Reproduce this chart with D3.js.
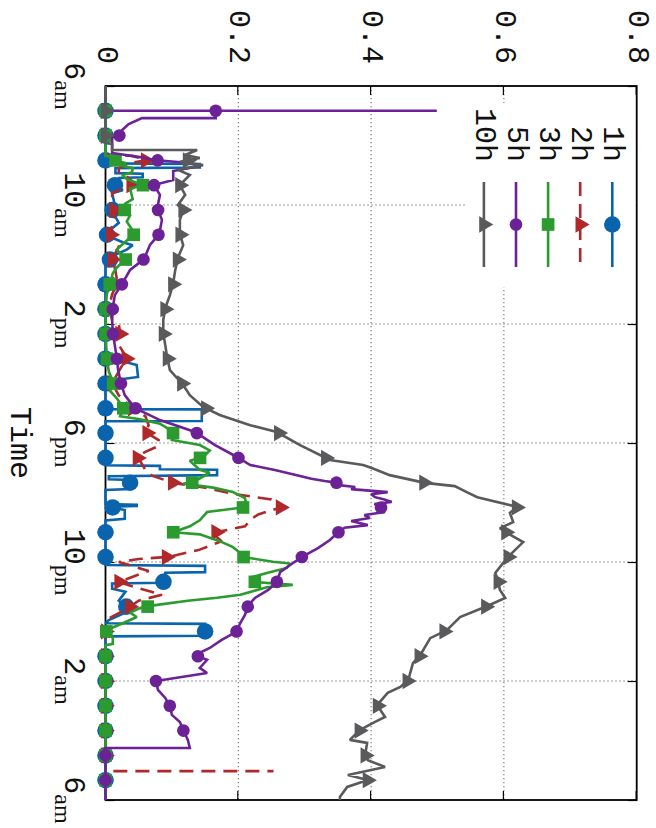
<!DOCTYPE html>
<html><head><meta charset="utf-8">
<script src="https://cdn.jsdelivr.net/npm/d3@7"></script>
<style>html,body{margin:0;padding:0;background:#fff}</style>
</head><body>
<svg id="c" width="656" height="828"></svg>
<script>
// ---- data (time in hours after 6 am, value) ----
const timeTicks = [0, 4, 8, 12, 16, 20, 24];
const timeTickMain = ["6", "10", "2", "6", "10", "2", "6"];
const timeTickSub = ["am", "am", "pm", "pm", "pm", "am", "am"];
const valueTicks = [0, 0.2, 0.4, 0.6, 0.8];
const valueTickLabels = ["0", "0.2", "0.4", "0.6", "0.8"];
const seriesNames = ["1h", "2h", "3h", "5h", "10h"];
const markerEveryMinutes = 50;

const s1h = [[0,0],[2.6,0],[2.62,0.142],[2.74,0.142],[2.76,0.015],[2.93,0.015],[2.95,0.056],[3.07,0.056],[3.09,0.02],[3.33,0.014],[3.5,0.026],[3.6,0.01],[4.0,0.014],[4.2,0.01],[4.6,0.02],[4.97,0],[5.1,0.01],[5.25,0.026],[5.35,0.041],[5.5,0.032],[5.7,0.012],[5.9,0.004],[6.0,0],[9.25,0],[9.28,0.03],[9.38,0.047],[9.78,0.049],[9.88,0.015],[10.0,0],[10.86,0],[10.87,0.145],[11.26,0.145],[11.27,0],[12.75,0],[12.77,0.082],[12.88,0.082],[12.9,0.168],[13.08,0.168],[13.12,0.005],[13.22,0.005],[13.24,0.037],[13.55,0.037],[13.58,0],[14.05,0],[14.08,0.047],[14.12,0.047],[14.14,0.005],[14.25,0.029],[14.55,0.029],[14.6,0],[16.1,0],[16.13,0.15],[16.34,0.15],[16.36,0.09],[16.7,0.087],[16.72,0.01],[16.9,0.01],[17.0,0.03],[17.3,0.02],[17.45,0.027],[17.6,0.04],[17.8,0.02],[17.95,0.005],[18.06,0],[18.08,0.15],[18.48,0.15],[18.5,0],[24,0]];

const s2h = [[0,0],[2.3,0],[2.35,0.04],[2.49,0.063],[2.6,0.035],[2.76,0.02],[2.9,0.02],[3.0,0.03],[3.2,0.04],[3.33,0.039],[3.5,0.02],[3.6,0.01],[4.0,0.01],[4.3,0.015],[4.5,0.012],[4.97,0.007],[5.4,0.02],[5.82,0.01],[6.2,0.015],[6.62,0.018],[7.0,0.01],[7.46,0.005],[7.87,0.01],[8.0,0.02],[8.3,0.022],[8.7,0.02],[9.14,0.032],[9.4,0.025],[9.98,0.01],[10.4,0.02],[10.82,0.04],[11.1,0.06],[11.4,0.065],[11.63,0.06],[11.9,0.08],[12.1,0.08],[12.3,0.06],[12.47,0.047],[12.6,0.052],[12.9,0.06],[13.1,0.07],[13.34,0.102],[13.5,0.15],[13.7,0.19],[13.9,0.25],[14.15,0.266],[14.4,0.23],[14.55,0.22],[14.8,0.21],[15.03,0.16],[15.3,0.175],[15.6,0.14],[15.83,0.094],[15.9,0.05],[16.0,0.02],[16.3,0.065],[16.67,0.02],[16.85,0.045],[17.1,0.085],[17.3,0.05],[17.6,0.03],[17.9,0.005],[18.35,0],[23.03,0],[23.03,0.253]];

const s3h = [[0,0],[2.35,0],[2.4,0.014],[2.5,0.015],[2.59,0.03],[2.69,0.027],[2.76,0.041],[2.9,0.04],[3.0,0.025],[3.1,0.03],[3.2,0.04],[3.33,0.057],[3.45,0.037],[3.8,0.041],[3.95,0.03],[4.1,0.026],[4.35,0.037],[4.55,0.032],[4.97,0.044],[5.25,0.029],[5.5,0.017],[5.82,0.031],[6.1,0.017],[6.3,0.011],[6.62,0.007],[7.0,0.002],[7.46,0],[8.3,0],[9.14,0.002],[9.6,0.005],[9.98,0.012],[10.25,0.007],[10.5,0.017],[10.82,0.027],[11.1,0.022],[11.2,0.052],[11.35,0.082],[11.63,0.102],[11.9,0.1],[12.07,0.142],[12.25,0.157],[12.47,0.147],[12.6,0.127],[12.9,0.142],[13.0,0.157],[13.34,0.13],[13.36,0.117],[13.5,0.162],[13.65,0.192],[13.85,0.21],[14.15,0.213],[14.32,0.153],[14.6,0.142],[14.8,0.127],[15.0,0.102],[15.07,0.142],[15.3,0.172],[15.5,0.192],[15.7,0.203],[15.83,0.207],[15.99,0.252],[16.05,0.278],[16.2,0.273],[16.37,0.243],[16.5,0.222],[16.67,0.225],[16.77,0.282],[16.85,0.243],[17.1,0.203],[17.2,0.168],[17.3,0.124],[17.45,0.075],[17.55,0.052],[17.7,0.037],[17.85,0.047],[18.0,0.032],[18.2,0.011],[18.35,0],[18.55,0.011],[18.75,0.011],[18.8,0],[24,0]];

const s5h = [[0,0],[0.83,0],[0.83,0.499],[0.83,0.166],[1.08,0.166],[1.08,0.055],[1.28,0.035],[1.48,0.025],[1.65,0.025],[1.71,0.01],[2.25,0.01],[2.39,0.052],[2.49,0.073],[2.59,0.127],[2.69,0.142],[2.86,0.102],[3.16,0.102],[3.33,0.073],[3.66,0.082],[4.1,0.078],[4.5,0.085],[4.97,0.081],[5.34,0.067],[5.82,0.058],[6.18,0.037],[6.62,0.026],[7.03,0.014],[7.46,0.011],[7.87,0.01],[8.3,0.011],[8.71,0.014],[9.14,0.017],[9.55,0.019],[9.98,0.023],[10.39,0.029],[10.82,0.044],[11.23,0.082],[11.63,0.135],[12.07,0.165],[12.47,0.198],[12.74,0.218],[12.91,0.255],[13.11,0.293],[13.2,0.31],[13.28,0.33],[13.34,0.35],[13.4,0.345],[13.48,0.376],[13.55,0.37],[13.65,0.425],[13.72,0.4],[13.82,0.406],[13.9,0.42],[13.98,0.431],[14.05,0.405],[14.15,0.416],[14.25,0.41],[14.32,0.421],[14.42,0.39],[14.52,0.398],[14.62,0.37],[14.76,0.395],[14.85,0.36],[15.03,0.349],[15.26,0.338],[15.53,0.32],[15.83,0.296],[16.1,0.278],[16.34,0.263],[16.67,0.258],[16.94,0.245],[17.21,0.225],[17.45,0.215],[17.78,0.21],[18.05,0.203],[18.35,0.197],[18.62,0.175],[18.89,0.157],[19.13,0.135],[19.29,0.153],[19.56,0.142],[19.73,0.153],[19.9,0.105],[20.0,0.076],[20.3,0.079],[20.57,0.09],[20.84,0.097],[21.14,0.1],[21.38,0.112],[21.65,0.117],[21.98,0.124],[22.25,0.127],[22.25,0],[24,0]];

const s10h = [[0,0],[1.92,0],[1.95,0.01],[2.15,0.01],[2.15,0.138],[2.32,0.12],[2.42,0.142],[2.55,0.112],[2.66,0.147],[2.82,0.109],[2.99,0.127],[3.33,0.112],[3.66,0.12],[4.0,0.109],[4.17,0.117],[4.5,0.112],[4.97,0.112],[5.35,0.117],[5.78,0.109],[6.19,0.105],[6.62,0.102],[7.03,0.097],[7.46,0.09],[7.87,0.087],[8.3,0.087],[8.71,0.09],[9.14,0.093],[9.55,0.097],[10.05,0.117],[10.39,0.127],[10.79,0.147],[11.06,0.172],[11.4,0.218],[11.63,0.258],[12.07,0.293],[12.57,0.338],[12.74,0.388],[12.84,0.401],[13.08,0.428],[13.34,0.481],[13.45,0.526],[13.65,0.544],[13.82,0.56],[14.15,0.62],[14.35,0.609],[14.66,0.614],[14.86,0.594],[15.03,0.605],[15.33,0.629],[15.77,0.609],[16.03,0.599],[16.37,0.587],[16.61,0.591],[16.94,0.594],[17.21,0.602],[17.48,0.575],[17.85,0.534],[18.29,0.514],[18.56,0.489],[19.13,0.474],[19.4,0.463],[19.97,0.456],[20.2,0.444],[20.4,0.425],[20.81,0.409],[21.21,0.421],[21.41,0.403],[21.65,0.383],[21.98,0.368],[22.08,0.394],[22.49,0.391],[22.66,0.395],[22.89,0.421],[23.16,0.365],[23.33,0.395],[23.56,0.364],[23.9,0.353],[24,0.353]];

const seriesData = [s1h, s2h, s3h, s5h, s10h];

// ---- styles ----
const colors = ["#0a64ad", "#b0282a", "#2b9b2f", "#6c2296", "#5a5a5c"];
const dashes = [null, "14,8", null, null, null];
const symbols = [d3.symbolCircle, d3.symbolTriangle, d3.symbolSquare, d3.symbolCircle, d3.symbolTriangle];
const symSizes = [215, 115, 160, 125, 115];

const W = 714, H = 531.2;
const svg = d3.select("#c");
const g = svg.append("g").attr("transform", "translate(636.7,86) rotate(90)");
const x = d3.scaleLinear().domain([0, 24]).range([0, W]);
const y = d3.scaleLinear().domain([0, 0.8]).range([H, 0]);

const mono = "'Liberation Mono', 'DejaVu Sans Mono', monospace";
const serif = "'Liberation Serif', serif";

// grid
const grid = g.append("g").attr("stroke", "#666").attr("stroke-width", 1).attr("stroke-dasharray", "1.3,2.7");
grid.selectAll(".gx").data(timeTicks.slice(1, -1)).join("line")
  .attr("x1", d => x(d)).attr("x2", d => x(d)).attr("y1", 0).attr("y2", H);
grid.selectAll(".gy").data(valueTicks.slice(1, -1)).join("line")
  .attr("y1", d => y(d)).attr("y2", d => y(d)).attr("x1", 0).attr("x2", W);

// ticks (all four sides, inward)
const tk = 9;
function drawAxis(axis, tr) {
  const a = g.append("g").attr("transform", tr).call(axis);
  a.select(".domain").remove();
  a.selectAll("text").remove();
  a.selectAll("line").attr("stroke", "#000").attr("stroke-width", 1.2);
}
drawAxis(d3.axisBottom(x).tickValues(timeTicks).tickSize(-tk), `translate(0,${H})`);
drawAxis(d3.axisTop(x).tickValues(timeTicks).tickSize(-tk), `translate(0,0)`);
drawAxis(d3.axisLeft(y).tickValues(valueTicks).tickSize(-tk), `translate(0,0)`);
drawAxis(d3.axisRight(y).tickValues(valueTicks).tickSize(-tk), `translate(${W},0)`);

// legend background (covers grid)
g.append("rect").attr("x", 17).attr("y", 0.8).attr("width", 184).attr("height", 169).attr("fill", "#fff");

// frame
g.append("rect").attr("x", 0).attr("y", 0).attr("width", W).attr("height", H)
  .attr("fill", "none").attr("stroke", "#000").attr("stroke-width", 1.8);

// tick labels
const tl = g.append("g").attr("font-family", mono).attr("font-size", 30).attr("fill", "#111");
timeTicks.forEach((t, i) => {
  const txt = tl.append("text").attr("x", x(t)).attr("y", H + 41).attr("text-anchor", "middle");
  txt.append("tspan").text(timeTickMain[i]);
  txt.append("tspan").attr("dy", 10).attr("font-family", serif).attr("font-size", 24).text(timeTickSub[i]);
});
valueTicks.forEach((v, i) => {
  tl.append("text").attr("x", -22).attr("y", y(v)).attr("text-anchor", "end")
    .attr("dominant-baseline", "central").text(valueTickLabels[i]);
});
tl.append("text").attr("x", W / 2).attr("y", H + 95).attr("text-anchor", "middle").text("Time");

// series
const line = d3.line().x(d => x(d[0])).y(d => y(d[1]));
const markerTimes = d3.range(1, 29).map(k => k * markerEveryMinutes / 60);
function valueAt(data, t) {
  const ts = data.map(d => d[0]);
  const i = d3.bisectRight(ts, t);
  if (i <= 0) return data[0][1];
  if (i >= data.length) return null;
  const p0 = data[i - 1], p1 = data[i];
  return p0[1] + (p1[1] - p0[1]) * (t - p0[0]) / (p1[0] - p0[0]);
}
seriesData.forEach((data, si) => {
  const sg = g.append("g");
  sg.append("path").datum(data).attr("d", line).attr("fill", "none")
    .attr("stroke", colors[si]).attr("stroke-width", 2.6)
    .attr("stroke-linejoin", "miter").attr("stroke-miterlimit", 2)
    .attr("stroke-dasharray", dashes[si]);
  const pts = markerTimes.filter(t => t <= data[data.length - 1][0]).map(t => [t, valueAt(data, t)]);
  sg.selectAll("path.m").data(pts).join("path").attr("class", "m")
    .attr("transform", d => `translate(${x(d[0])},${y(d[1])})`)
    .attr("d", d3.symbol().type(symbols[si]).size(symSizes[si]))
    .attr("fill", colors[si]);
});

// legend
const lg = g.append("g");
seriesNames.forEach((name, i) => {
  const ry = 24.4 + i * 32.1;
  lg.append("text").attr("x", 76).attr("y", ry).attr("text-anchor", "end")
    .attr("dominant-baseline", "central").attr("font-family", mono).attr("font-size", 30)
    .attr("fill", "#111").text(name);
  lg.append("line").attr("x1", 96).attr("x2", 181).attr("y1", ry).attr("y2", ry)
    .attr("stroke", colors[i]).attr("stroke-width", 2.6).attr("stroke-dasharray", dashes[i]);
  lg.append("path").attr("transform", `translate(138.5,${ry})`)
    .attr("d", d3.symbol().type(symbols[i]).size(symSizes[i])).attr("fill", colors[i]);
});
</script>
</body></html>
